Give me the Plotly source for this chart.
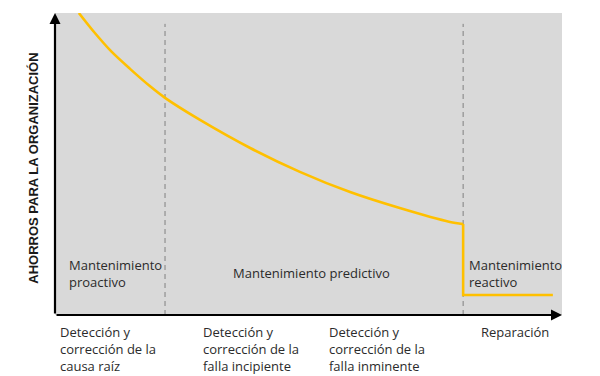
import plotly.graph_objects as go

# Savings curve (relative units, x: 0-100 along maintenance stage axis, y: 0-100 savings)
curve_x = [4.7, 7.7, 11.2, 14.8, 18.7, 21.7, 28.6, 38.5, 48.3, 58.2, 68.0, 77.9, 80.5]
curve_y = [100, 93.7, 87.1, 81.5, 75.8, 71.9, 64.6, 55.3, 47.4, 40.7, 35.4, 30.8, 30.1]
step_x = [80.5, 80.5, 98.2]
step_y = [30.1, 6.6, 6.6]

divider_x = [21.7, 80.5]
divider_top = 96.4

region_labels = ["Mantenimiento<br>proactivo", "Mantenimiento predictivo", "Mantenimiento<br>reactivo"]
region_x = [2.3, 50.6, 81.3]
region_y = [13.6, 13.9, 13.6]
region_anchor = ["left", "center", "left"]

stage_labels = [
    "Detección y<br>corrección de la<br>causa raíz",
    "Detección y<br>corrección de la<br>falla incipiente",
    "Detección y<br>corrección de la<br>falla inminente",
    "Reparación",
]
stage_x = [0.6, 28.8, 53.6, 83.6]
stage_y = -1.9

y_title = "AHORROS PARA LA ORGANIZACIÓN"

FONT = "Open Sans"
FSIZE = 13
TXT = "#2b2b2b"

fig = go.Figure()
fig.add_trace(go.Scatter(x=curve_x, y=curve_y, mode="lines",
                         line=dict(color="#FFC000", width=2.6, shape="spline", smoothing=0.8),
                         hoverinfo="skip", showlegend=False))
fig.add_trace(go.Scatter(x=step_x, y=step_y, mode="lines",
                         line=dict(color="#FFC000", width=2.6),
                         hoverinfo="skip", showlegend=False))

for dx in divider_x:
    fig.add_shape(type="line", x0=dx, x1=dx, y0=0, y1=divider_top,
                  line=dict(color="#808080", width=1, dash="5px,4px"), layer="below")

# axes ranges are [0,100] over the full domain, so paper coords = value / 100
for t, x, y, a in zip(region_labels, region_x, region_y, region_anchor):
    fig.add_annotation(x=x / 100, y=y / 100, xref="paper", yref="paper", text=t,
                       showarrow=False, xanchor=a, yanchor="middle", align="left",
                       font=dict(family=FONT, size=FSIZE, color=TXT))

for t, x in zip(stage_labels, stage_x):
    fig.add_annotation(x=x / 100, y=stage_y / 100, xref="paper", yref="paper", text=t,
                       showarrow=False, xanchor="left", yanchor="top", align="left",
                       font=dict(family=FONT, size=FSIZE, color=TXT))

# axis arrows
fig.add_annotation(x=0, y=100, ax=0, ay=0, xref="x", yref="y", axref="x", ayref="y",
                   text="", showarrow=True, arrowhead=2, arrowsize=1.0, arrowwidth=2.2,
                   arrowcolor="black")
fig.add_annotation(x=100, y=0, ax=0, ay=0, xref="x", yref="y", axref="x", ayref="y",
                   text="", showarrow=True, arrowhead=2, arrowsize=1.0, arrowwidth=2.2,
                   arrowcolor="black")

fig.add_annotation(x=-0.043, y=0.485, xref="paper", yref="paper", text="<b>" + y_title + "</b>",
                   showarrow=False, textangle=-90, xanchor="center", yanchor="middle",
                   font=dict(family="Liberation Sans", size=13, color="#1a1a1a"))

fig.update_xaxes(range=[0, 100], visible=False, fixedrange=True)
fig.update_yaxes(range=[0, 100], visible=False, fixedrange=True)
fig.update_layout(width=600, height=376,
                  margin=dict(l=55, r=38, t=13, b=61),
                  plot_bgcolor="#D9D9D9", paper_bgcolor="white")

fig.write_html("out.html", config={"displayModeBar": False},
               post_script="document.body.style.margin='0';document.body.style.overflow='hidden';")
